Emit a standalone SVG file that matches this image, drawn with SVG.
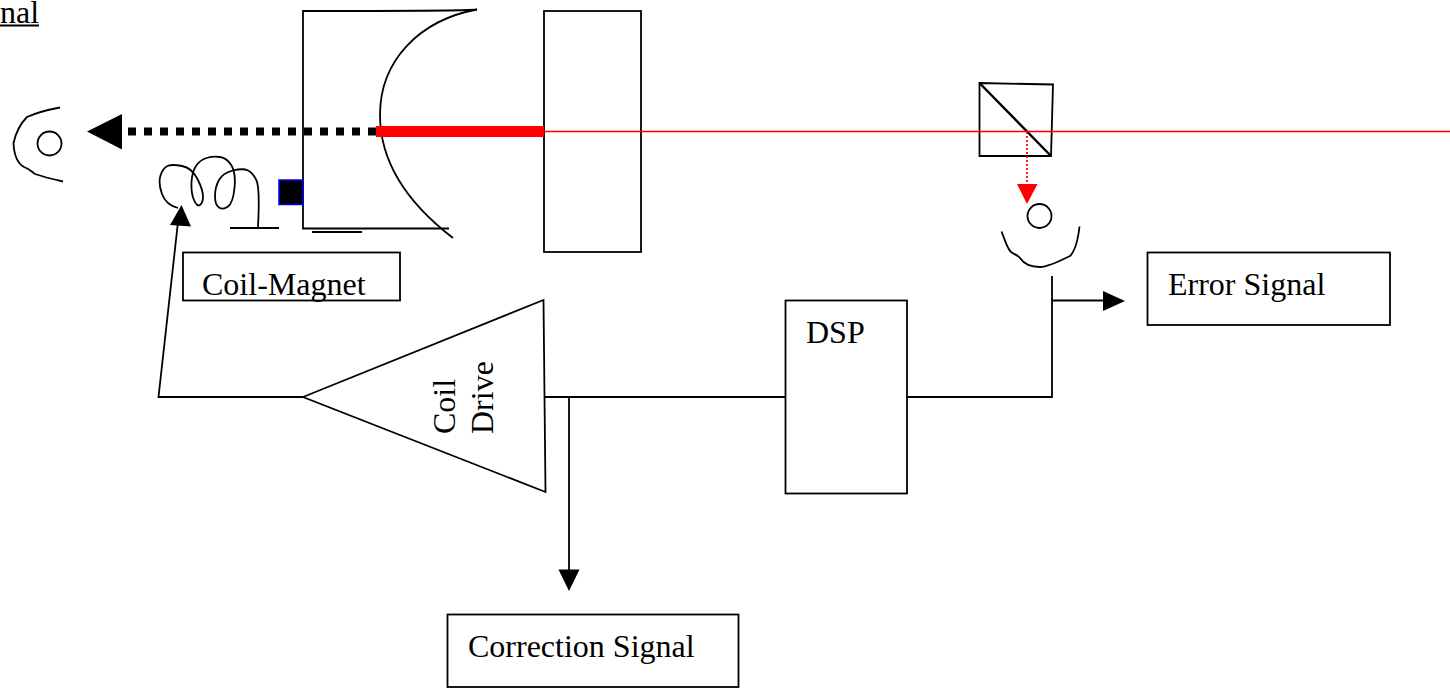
<svg xmlns="http://www.w3.org/2000/svg" width="1450" height="688" viewBox="0 0 1450 688">
<style>
.s{fill:none;stroke:#000;stroke-width:1.8}
.b{fill:#fff;stroke:#000;stroke-width:1.8}
.t{font-family:"Liberation Serif","Times New Roman",serif;font-size:32px;fill:#000}
.f{fill:#000}
</style>
<rect width="1450" height="688" fill="#fff"/>
<text class="t" x="0" y="22.500">nal</text>
<rect x="0" y="24.500" width="39" height="2" fill="#000"/>
<g id="lens-housing">
<path class="s" d="M477 9.500Q466 11 303 11V228.500H449"/>
<path class="s" d="M477 9.500C420 20 380 60 380 115C380 165 410 205 453 238"/>
<path class="s" d="M312 232H362"/>
</g>
<g id="plate"><rect class="s" x="544" y="11" width="97" height="241"/></g>
<g id="magnet"><rect x="279" y="180" width="24" height="24.500" fill="#000" stroke="#00f" stroke-width="1.500"/></g>
<g id="coil">
<path class="s" d="M178 208Q166 205 162 194Q158 183 160.500 175.500Q163 168 167.500 166Q172 164 182 166Q192 168 197.500 179Q203 190 203 196.500Q203 203 200 205Q197 207 194 200Q191 193 191.500 182.500Q192 172 196 166Q200 160 206.500 158Q213 156 220 157Q227 158 231.500 165.500Q236 173 234.500 188Q233 203 228 206.500Q223 210 219 207.500Q215 205 215 196Q215 187 219 180Q223 173 233 170.500Q243 168 248 170.500Q253 173 256.500 180.500Q260 188 258 227"/>
<path class="s" d="M230 228H279"/>
</g>
<g id="detector-left">
<path class="s" d="M60 107.500C52 109 38 112 27 117C22 122 16 132 13.500 143C14 155 17 163 24 167C30 169 32 172 35 174C41 176 52 179 63 181.500"/>
<circle class="s" cx="49.500" cy="143.500" r="12"/>
</g>
<g id="cube">
<path class="s" d="M979.500 83L1053 84.500L1051 156H979.500Z"/>
<path d="M979.500 83L1051 156" fill="none" stroke="#000" stroke-width="2.400"/>
</g>
<g id="detector-right">
<circle class="s" cx="1039.500" cy="216" r="12"/>
<path class="s" d="M1001.500 231.500C1005 240 1007 248 1011 252C1015 255 1018 255 1020 258C1024 264 1030 267 1040 267C1046 267 1058 262 1070 256C1076 250 1078 240 1079.500 226.500"/>
</g>
<g id="coil-drive">
<path class="b" d="M303 397L543.500 300L545.500 492Z"/>
<text class="t" transform="translate(455 434) rotate(-90)">Coil</text>
<text class="t" transform="translate(493 434) rotate(-90)">Drive</text>
</g>
<g id="dsp"><rect class="b" x="785.500" y="300.500" width="121.500" height="193"/><text class="t" x="806" y="342.500">DSP</text></g>
<g id="coil-magnet"><rect class="b" x="183" y="252.500" width="217" height="48"/><text class="t" x="202" y="294.500">Coil-Magnet</text></g>
<g id="error-signal"><rect class="b" x="1147.500" y="252.500" width="242.500" height="72.500"/><text class="t" x="1168" y="294.500">Error Signal</text></g>
<g id="correction-signal"><rect class="b" x="447.500" y="614.500" width="291" height="72.500"/><text class="t" x="468" y="656.500">Correction Signal</text></g>
<g id="connectors">
<path d="M128 131.500H376" fill="none" stroke="#000" stroke-width="8" stroke-dasharray="8 8"/>
<path class="f" d="M87 131.500L122 114V149.500Z"/>
<path d="M376 131.500H544" fill="none" stroke="#f00" stroke-width="11"/>
<path d="M544 131.500H1450" fill="none" stroke="#f00" stroke-width="1.500"/>
<path d="M1027 132V184" fill="none" stroke="#f00" stroke-width="1.800" stroke-dasharray="2 2"/>
<path d="M1017 184H1037.500L1027 204Z" fill="#f00"/>
<path class="s" d="M303 397H158.500L178 222"/>
<path class="f" d="M181.500 205L191 226.500L170 225Z"/>
<path class="s" d="M545 397H785.500"/>
<path class="s" d="M907 397H1052V276"/>
<path class="s" d="M1052 300.500H1104"/>
<path class="f" d="M1125 301L1103 291V311Z"/>
<path class="s" d="M569 397V570"/>
<path class="f" d="M569 591L558.500 569.500H579.500Z"/>
</g>
</svg>
